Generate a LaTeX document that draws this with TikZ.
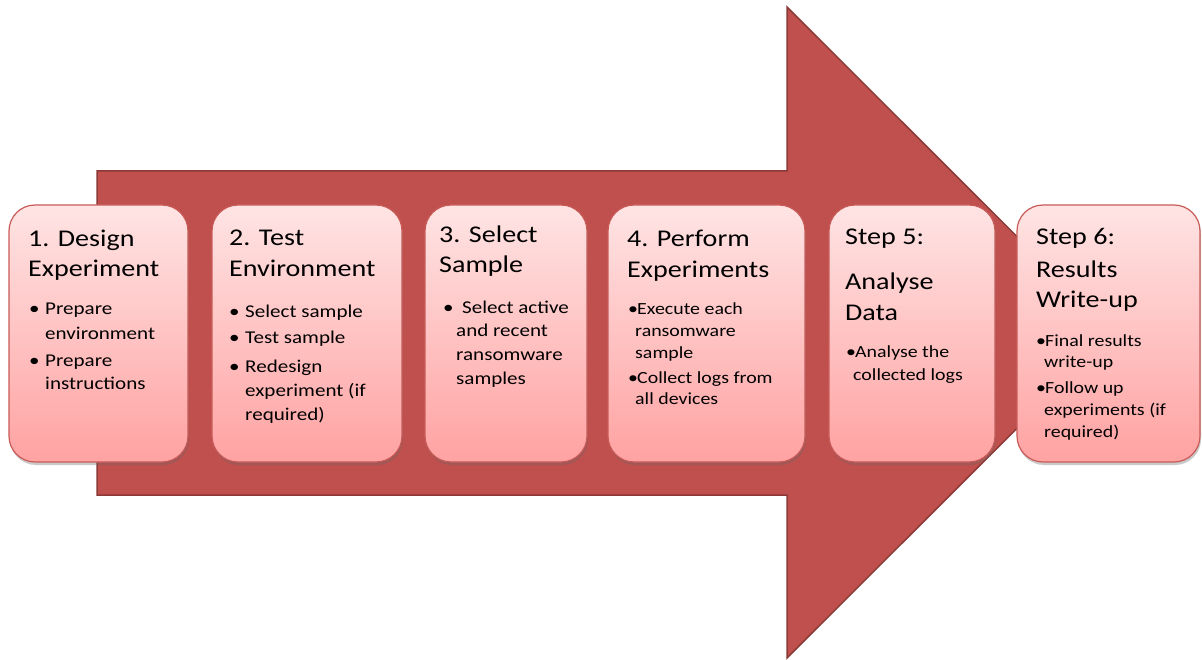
\documentclass[tikz,border=0pt]{standalone}
\usepackage{fontspec}
\setmainfont{Carlito}
\newfontfamily\ttlfam{Carlito}[FakeStretch=1.17]
\newfontfamily\blfam{Carlito}[FakeStretch=1.17]
\usetikzlibrary{shadows}
\definecolor{arrowfill}{HTML}{C0504D}
\definecolor{arrowline}{HTML}{8C3A37}
\definecolor{boxtop}{HTML}{FFE4E4}
\definecolor{boxbot}{HTML}{FFA2A2}
\definecolor{boxline}{HTML}{C85B58}
\tikzset{
  stepbox/.style={draw=boxline, line width=1.2pt, rounded corners=26pt,
    top color=boxtop, bottom color=boxbot, inner sep=0,
    drop shadow={shadow xshift=1pt, shadow yshift=-3pt, opacity=0.35, fill=black!60}},
  ttl/.style={font=\ttlfam\fontsize{24}{29}\selectfont, anchor=base west, inner sep=0},
  bla/.style={font=\blfam\fontsize{18}{22}\selectfont, anchor=base west, inner sep=0},
  blb/.style={font=\blfam\fontsize{17}{21}\selectfont, anchor=base west, inner sep=0},
}
\begin{document}
\begin{tikzpicture}[x=1pt,y=-1pt]
\useasboundingbox (0,0) rectangle (1202,660);
% big arrow
\draw[fill=arrowfill, draw=arrowline, line width=1.5pt, line join=miter]
  (97,171) -- (787,171) -- (787,7) -- (1113,332.5) -- (787,658) -- (787,495) -- (97,495) -- cycle;
% boxes
\node[stepbox, minimum width=179pt, minimum height=257pt] (b1) at (98.5,333.5) {};
\node[stepbox, minimum width=190pt, minimum height=257pt] (b2) at (307,333.5) {};
\node[stepbox, minimum width=162pt, minimum height=257pt] (b3) at (506,333.5) {};
\node[stepbox, minimum width=197pt, minimum height=257pt] (b4) at (706.5,333.5) {};
\node[stepbox, minimum width=166pt, minimum height=257pt] (b5) at (912,333.5) {};
\node[stepbox, minimum width=183pt, minimum height=257pt] (b6) at (1108.5,333.5) {};
% box 1
\node[ttl] (t1a) at (28,247) {1. Design};
\node[ttl] (t1b) at (28,277) {Experiment};
\node[bla] (d1a) at (29,315) {•};
\node[bla] (l1a) at (45,315) {Prepare};
\node[bla] (l1b) at (45,339) {environment};
\node[bla] (d1b) at (29,366) {•};
\node[bla] (l1c) at (45,366) {Prepare};
\node[bla] (l1d) at (45,389) {instructions};
% box 2
\node[ttl] (t2a) at (229,246) {2. Test};
\node[ttl] (t2b) at (229,277) {Environment};
\node[bla] (d2a) at (229,317) {•};
\node[bla] (l2a) at (245,317) {Select sample};
\node[bla] (d2b) at (229,344) {•};
\node[bla] (l2b) at (245,344) {Test sample};
\node[bla] (d2c) at (229,372) {•};
\node[bla] (l2c) at (245,372) {Redesign};
\node[bla] (l2d) at (245,396) {experiment (if};
\node[bla] (l2e) at (245,420) {required)};
% box 3
\node[ttl] (t3a) at (439,243) {3. Select};
\node[ttl] (t3b) at (439,273) {Sample};
\node[bla] (d3a) at (443,313) {•};
\node[bla] (l3a) at (462,313) {Select active};
\node[bla] (l3b) at (456,337) {and recent};
\node[bla] (l3c) at (456,360) {ransomware};
\node[bla] (l3d) at (456,384) {samples};
% box 4
\node[ttl] (t4a) at (627,247) {4. Perform};
\node[ttl] (t4b) at (627,278) {Experiments};
\node[blb] (d4a) at (628,315) {•};
\node[blb] (l4a) at (637,315) {Execute each};
\node[blb] (l4b) at (635,337) {ransomware};
\node[blb] (l4c) at (635,358) {sample};
\node[blb] (d4b) at (628,383) {•};
\node[blb] (l4d) at (637,383) {Collect logs from};
\node[blb] (l4e) at (635,404) {all devices};
% box 5
\node[ttl] (t5a) at (845,245) {Step 5:};
\node[ttl] (t5b) at (845,290) {Analyse};
\node[ttl] (t5c) at (845,320) {Data};
\node[blb] (d5a) at (846,357) {•};
\node[blb] (l5a) at (855,357) {Analyse the};
\node[blb] (l5b) at (853,380) {collected logs};
% box 6
\node[ttl] (t6a) at (1036,245) {Step 6:};
\node[ttl] (t6b) at (1036,278) {Results};
\node[ttl] (t6c) at (1036,308) {Write-up};
\node[blb] (d6a) at (1036,346) {•};
\node[blb] (l6a) at (1045,346) {Final results};
\node[blb] (l6b) at (1044,367) {write-up};
\node[blb] (d6b) at (1036,393) {•};
\node[blb] (l6c) at (1045,393) {Follow up};
\node[blb] (l6d) at (1044,415) {experiments (if};
\node[blb] (l6e) at (1044,437) {required)};
\end{tikzpicture}
\end{document}
